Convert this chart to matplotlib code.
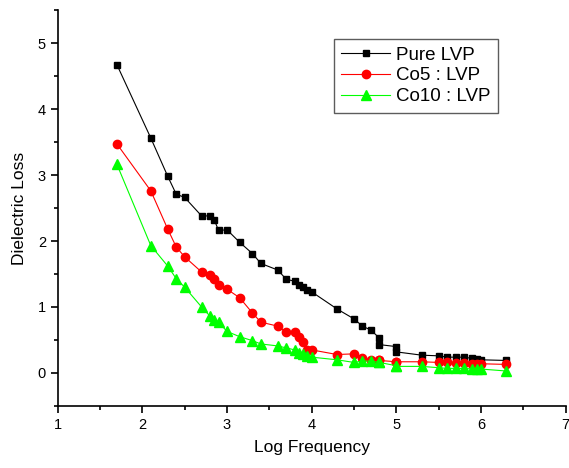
import matplotlib
matplotlib.use("Agg")
import matplotlib.pyplot as plt
from matplotlib.ticker import MultipleLocator

plt.rcParams['font.family'] = ['Liberation Sans', 'DejaVu Sans']

# log frequency values (shared by all samples)
log_freq = [1.7, 2.1, 2.3, 2.4, 2.5, 2.7, 2.8, 2.85, 2.9, 3.0, 3.15, 3.3, 3.4,
            3.6, 3.7, 3.8, 3.85, 3.9, 3.95, 4.0, 4.3, 4.5, 4.6, 4.7, 4.8, 4.8,
            5.0, 5.0, 5.3, 5.5, 5.6, 5.7, 5.8, 5.9, 5.95, 6.0, 6.3]

pure_lvp = [4.67, 3.56, 2.98, 2.71, 2.66, 2.38, 2.38, 2.32, 2.16, 2.17, 1.98,
            1.81, 1.66, 1.56, 1.42, 1.39, 1.34, 1.30, 1.26, 1.23, 0.97, 0.82,
            0.71, 0.65, 0.53, 0.43, 0.40, 0.32, 0.27, 0.26, 0.24, 0.24, 0.24,
            0.22, 0.21, 0.20, 0.19]

co5_lvp = [3.47, 2.76, 2.18, 1.91, 1.76, 1.53, 1.49, 1.42, 1.34, 1.27, 1.14,
           0.91, 0.77, 0.71, 0.62, 0.62, 0.55, 0.47, 0.35, 0.35, 0.28, 0.29,
           0.22, 0.20, 0.20, 0.19, 0.17, 0.17, 0.17, 0.16, 0.16, 0.15, 0.15,
           0.14, 0.14, 0.14, 0.13]

co10_lvp = [3.16, 1.93, 1.62, 1.43, 1.30, 1.00, 0.86, 0.81, 0.77, 0.63, 0.55,
            0.49, 0.44, 0.41, 0.38, 0.35, 0.31, 0.29, 0.25, 0.24, 0.20, 0.16,
            0.18, 0.18, 0.16, 0.16, 0.11, 0.10, 0.10, 0.08, 0.07, 0.07, 0.07,
            0.06, 0.06, 0.06, 0.03]

fig = plt.figure(figsize=(5.69, 4.68), dpi=100)
ax = fig.add_axes([0.1014, 0.1325, 0.8926, 0.8461])

ax.plot(log_freq, pure_lvp, color='black', marker='s', markersize=5,
        linewidth=0.8, label='Pure LVP')
ax.plot(log_freq, co5_lvp, color='#ff0000', marker='o', markersize=6,
        linewidth=0.8, label='Co5 : LVP')
ax.plot(log_freq, co10_lvp, color='#00ff00', marker='^', markersize=7.5,
        linewidth=0.8, label='Co10 : LVP')

ax.set_xlim(1, 7)
ax.set_ylim(-0.5, 5.5)
ax.xaxis.set_major_locator(MultipleLocator(1))
ax.xaxis.set_minor_locator(MultipleLocator(0.5))
ax.yaxis.set_major_locator(MultipleLocator(1))
ax.yaxis.set_minor_locator(MultipleLocator(0.5))

ax.spines['top'].set_visible(False)
ax.spines['right'].set_visible(False)
for s in ('left', 'bottom'):
    ax.spines[s].set_linewidth(1.2)
ax.tick_params(which='major', direction='out', length=5, width=1.2,
               labelsize=10.5)
ax.tick_params(which='minor', direction='out', length=3, width=1.2)

ax.set_xlabel('Log Frequency', fontsize=12.5, labelpad=6)
ax.set_ylabel('Dielectric Loss', fontsize=12.5, labelpad=8)

leg = ax.legend(loc='upper left', bbox_to_anchor=(0.544, 0.927),
                fontsize=13.5, frameon=True, fancybox=False,
                handlelength=2.6, borderpad=0.4, labelspacing=0.2,
                handletextpad=0.3, borderaxespad=0)
leg.get_frame().set_edgecolor('#333333')
leg.get_frame().set_linewidth(1.0)

fig.savefig('out.png', dpi=100)
